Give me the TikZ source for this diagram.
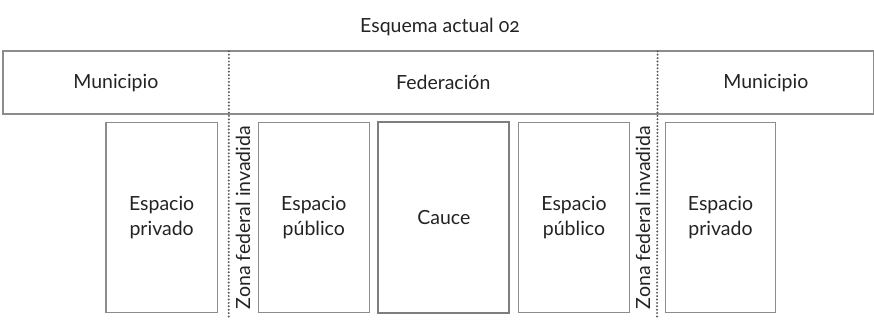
\documentclass[tikz,border=0pt]{standalone}
\usepackage{fontspec}
\setmainfont{Lato}[Numbers=OldStyle]
\usepackage{tikz}
\usepackage{xcolor}
\usetikzlibrary{positioning}
\definecolor{borde}{RGB}{140,140,140}
\definecolor{texto}{RGB}{35,35,35}

\begin{document}
\begin{tikzpicture}[
    x=1pt, y=1pt,
    font=\fontsize{19.5}{25}\selectfont, text=texto,
    franja/.style={rectangle, inner sep=0pt, minimum height=62.5pt, align=center},
    espacio/.style={rectangle, draw=borde, line width=1.3pt, inner sep=0pt, minimum height=190.4pt, align=center},
    zona/.style={texto!75, line width=2.2pt, line cap=round, dash pattern=on 0pt off 3.4pt},
    etiqueta/.style={rotate=90, inner sep=0pt}
]
\useasboundingbox (0,0) rectangle (874,325);

% titulo
\node (titulo) at (440,298) {Esquema actual 02};

% franja superior
\node[franja, minimum width=225.7pt] (munil) at (115.85,242.25) {Municipio};
\node[franja, minimum width=428.3pt, right=0pt of munil] (federacion) {Federación};
\node[franja, minimum width=216pt, right=0pt of federacion] (munir) {Municipio};
\draw[borde, line width=2.2pt] (munil.north west) rectangle (munir.south east);

% limites de la zona federal
\coordinate (zonaizq) at (228.7,8);
\coordinate (zonader) at (657,8);
\draw[zona] (munil.north east) -- (zonaizq);
\draw[zona] (munir.north west) -- (zonader);

% espacios
\node[espacio, minimum width=111.3pt] (privizq) at (161.65,107.5) {Espacio\\privado};
\node[espacio, minimum width=111pt] (pubizq) at (313.8,107.5) {Espacio\\público};
\node[espacio, minimum width=131pt, line width=2pt, draw=borde!90!black] (cauce) at (443.8,107.5) {Cauce};
\node[espacio, minimum width=110.6pt] (pubder) at (574,107.5) {Espacio\\público};
\node[espacio, minimum width=110.4pt] (privder) at (720.5,107.5) {Espacio\\privado};

% zona federal invadida
\node[etiqueta] (invizq) at (243,107.5) {Zona federal invadida};
\node[etiqueta] (invder) at (643,107.5) {Zona federal invadida};

\end{tikzpicture}
\end{document}
